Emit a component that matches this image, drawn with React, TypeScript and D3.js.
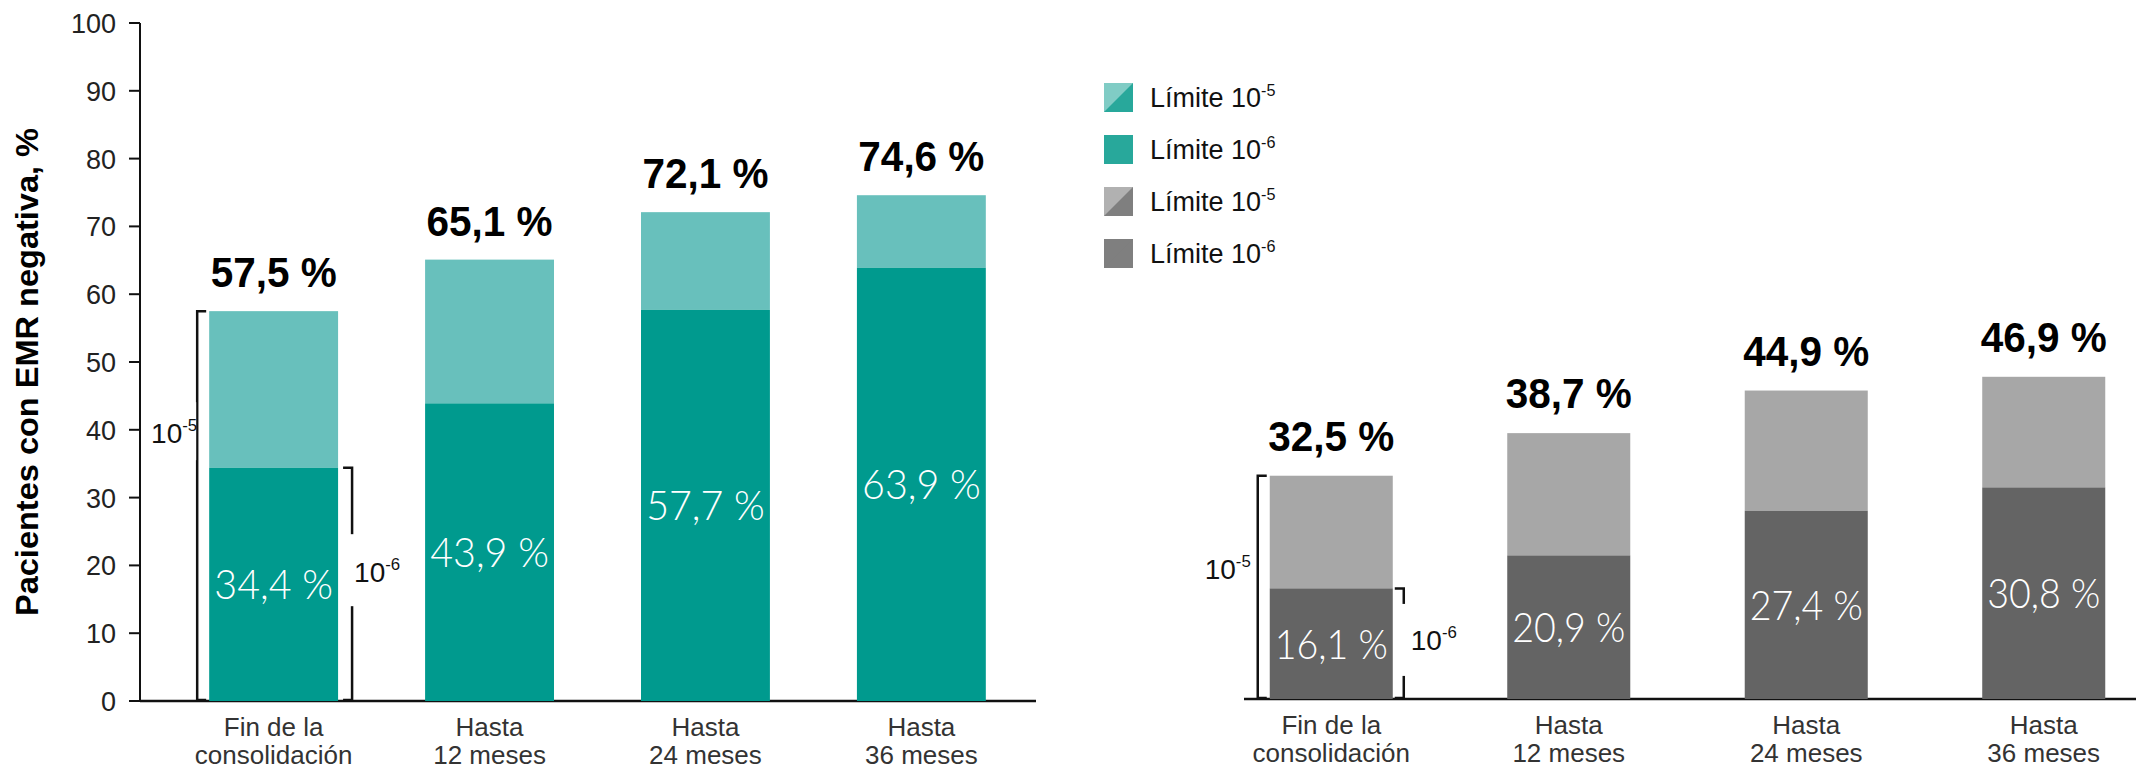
import React from 'react';
import * as d3 from 'd3';

// ---------- data ----------
const categories = ['Fin de la consolidación', 'Hasta 12 meses', 'Hasta 24 meses', 'Hasta 36 meses'];
const categoryLines = [
  ['Fin de la', 'consolidación'],
  ['Hasta', '12 meses'],
  ['Hasta', '24 meses'],
  ['Hasta', '36 meses'],
];
const leftTotal = [57.5, 65.1, 72.1, 74.6]; // Límite 10^-5
const leftDeep = [34.4, 43.9, 57.7, 63.9]; // Límite 10^-6
const rightTotal = [32.5, 38.7, 44.9, 46.9];
const rightDeep = [16.1, 20.9, 27.4, 30.8];
const yTicks = [0, 10, 20, 30, 40, 50, 60, 70, 80, 90, 100];
const legendExponents = ['-5', '-6', '-5', '-6'];
const yTitle = 'Pacientes con EMR negativa, %';

// ---------- styles ----------
const TEAL_LIGHT = '#68c0bc';
const TEAL_DARK = '#009a8e';
const GRAY_LIGHT = '#a7a7a7';
const GRAY_DARK = '#646464';
const LEG = [
  { a: '#80ccc5', b: '#28a89b' },
  { a: '#28a89b', b: '#28a89b' },
  { a: '#b1b1b1', b: '#7f7f7f' },
  { a: '#7f7f7f', b: '#7f7f7f' },
];
const FONT = "'Liberation Sans', Arial, sans-serif";
const NARROW = "'Liberation Sans Narrow', 'Liberation Sans', Arial, sans-serif";
const LIGHT = "Lato, 'Liberation Sans', sans-serif";

const fmt = (v: number) => v.toFixed(1).replace('.', ',') + ' %';

function Sup({ x, y, base, exp, anchor, size }: any) {
  return (
    <text x={x} y={y} textAnchor={anchor} fontFamily={FONT} fontSize={size} fill="#111">
      {base}
      <tspan fontSize={size * 0.6} dy={-size * 0.42}>{exp}</tspan>
    </text>
  );
}

function Bracket({ x, yTop, yBot, dir }: any) {
  const f = 9;
  return (
    <path
      d={`M${x + dir * f},${yTop} H${x} V${yBot} H${x + dir * f}`}
      fill="none"
      stroke="#111"
      strokeWidth={2.5}
    />
  );
}

function Panel({ x, y, total, deep, light, dark, labelGap }: any) {
  return (
    <g>
      {categories.map((c, i) => {
        const bx = x(c)!;
        const bw = x.bandwidth();
        const yDeep = y(deep[i]);
        const yTot = y(total[i]);
        const y0 = y(0);
        return (
          <g key={c}>
            <rect x={bx} y={yTot} width={bw} height={yDeep - yTot} fill={light} />
            <rect x={bx} y={yDeep} width={bw} height={y0 - yDeep} fill={dark} />
            <text
              x={bx + bw / 2}
              y={yTot - labelGap}
              textAnchor="middle"
              fontFamily={NARROW}
              fontWeight="bold"
              fontSize={43}
              textLength={126}
              lengthAdjust="spacingAndGlyphs"
              fill="#000"
            >
              {fmt(total[i])}
            </text>
            <text
              x={bx + bw / 2}
              y={(yDeep + y0) / 2 + 15}
              textAnchor="middle"
              fontFamily={LIGHT}
              fontWeight={300}
              fontSize={42}
              textLength={bw * 0.92}
              lengthAdjust="spacingAndGlyphs"
              fill="#fff"
            >
              {fmt(deep[i])}
            </text>
            {categoryLines[i].map((ln, k) => (
              <text
                key={k}
                x={bx + bw / 2}
                y={y0 + 35 + k * 28}
                textAnchor="middle"
                fontFamily={NARROW}
                fontSize={26}
                fill="#333"
              >
                {ln}
              </text>
            ))}
          </g>
        );
      })}
    </g>
  );
}

export default function App() {
  const W = 2136;
  const H = 773;
  const yL = d3.scaleLinear().domain([0, 100]).range([701, 23]);
  const yR = d3.scaleLinear().domain([0, 100]).range([699, 12]);
  const xL = d3.scaleBand<string>().domain(categories).range([166, 1029]).paddingInner(0.403).paddingOuter(0.2);
  const xR = d3.scaleBand<string>().domain(categories).range([1246, 2129]).paddingInner(0.482).paddingOuter(0.1);

  const axisX = 140;
  const c0 = categories[0];
  const lb0 = xL(c0)!;
  const lbw = xL.bandwidth();
  const rb0 = xR(c0)!;
  const rbw = xR.bandwidth();

  return (
    <svg
      width={W}
      height={H}
      viewBox={`0 0 ${W} ${H}`}
      style={{ position: 'absolute', left: 0, top: 0, background: '#fff' }}
    >
      <rect width={W} height={H} fill="#fff" />
      {/* Y axis title */}
      <text
        transform={`translate(38,${(yL(0) + yL(100)) / 2 + 10}) rotate(-90)`}
        textAnchor="middle"
        fontFamily={NARROW}
        fontWeight="bold"
        fontSize={31}
        textLength={488}
        lengthAdjust="spacingAndGlyphs"
        fill="#000"
      >
        {yTitle}
      </text>
      {/* Y axis */}
      <line x1={axisX} x2={axisX} y1={yL(100)} y2={yL(0)} stroke="#111" strokeWidth={2} />
      {yTicks.map((t) => (
        <g key={t}>
          <line x1={axisX - 11} x2={axisX} y1={yL(t)} y2={yL(t)} stroke="#111" strokeWidth={2} />
          <text x={axisX - 24} y={yL(t) + 10} textAnchor="end" fontFamily={FONT} fontSize={27} fill="#222">
            {t}
          </text>
        </g>
      ))}
      {/* X axes */}
      <line x1={axisX} x2={1036} y1={yL(0)} y2={yL(0)} stroke="#111" strokeWidth={2.5} />
      <line x1={1244} x2={2136} y1={yR(0)} y2={yR(0)} stroke="#111" strokeWidth={2.5} />

      <Panel x={xL} y={yL} total={leftTotal} deep={leftDeep} light={TEAL_LIGHT} dark={TEAL_DARK} labelGap={24} />
      <Panel x={xR} y={yR} total={rightTotal} deep={rightDeep} light={GRAY_LIGHT} dark={GRAY_DARK} labelGap={25} />

      {/* Left panel brackets */}
      <Bracket x={lb0 - 12} yTop={yL(leftTotal[0])} yBot={yL(0) - 1} dir={1} />
      <rect x={lb0 - 63} y={yL(39.5) - 31} width={50} height={58} fill="#fff" />
      <Sup x={lb0 - 12} y={yL(39.5) + 10} base="10" exp="-5" anchor="end" size={28} />
      <Bracket x={lb0 + lbw + 14} yTop={yL(leftDeep[0])} yBot={yL(0) - 1} dir={-1} />
      <rect x={lb0 + lbw + 11} y={yL(19) - 38} width={52} height={72} fill="#fff" />
      <Sup x={lb0 + lbw + 16} y={yL(19) + 10} base="10" exp="-6" anchor="start" size={28} />

      {/* Right panel brackets */}
      <Bracket x={rb0 - 12} yTop={yR(rightTotal[0])} yBot={yR(0) - 1} dir={1} />
      <rect x={rb0 - 71} y={yR(18.9) - 29} width={57} height={58} fill="#fff" />
      <Sup x={rb0 - 19} y={yR(18.9) + 10} base="10" exp="-5" anchor="end" size={28} />
      <Bracket x={rb0 + rbw + 11} yTop={yR(rightDeep[0])} yBot={yR(0) - 1} dir={-1} />
      <rect x={rb0 + rbw + 7} y={yR(8.6) - 36} width={62} height={72} fill="#fff" />
      <Sup x={rb0 + rbw + 18} y={yR(8.6) + 10} base="10" exp="-6" anchor="start" size={28} />

      {/* Legend */}
      {legendExponents.map((e, i) => {
        const lx = 1104;
        const ly = 83 + i * 52;
        const s = 29;
        return (
          <g key={i}>
            <rect x={lx} y={ly} width={s} height={s} fill={LEG[i].b} />
            <path d={`M${lx},${ly} H${lx + s} L${lx},${ly + s} Z`} fill={LEG[i].a} />
            <Sup x={1150} y={ly + 24} base="Límite 10" exp={e} anchor="start" size={27} />
          </g>
        );
      })}
    </svg>
  );
}
